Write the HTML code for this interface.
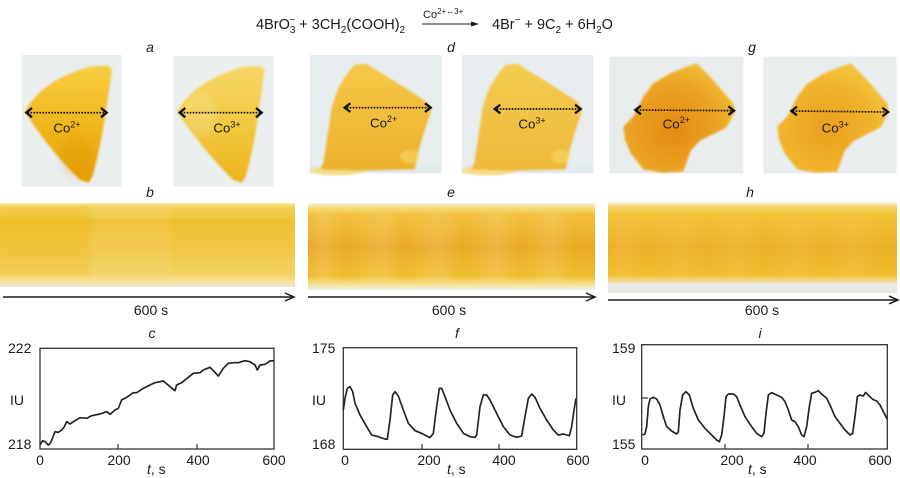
<!DOCTYPE html>
<html><head><meta charset="utf-8"><style>
html,body{margin:0;padding:0;background:#fff;}
svg{display:block;}
text{font-family:"Liberation Sans",Arial,sans-serif;fill:#1a1a1a;}
</style></head><body>
<svg width="900" height="478" viewBox="0 0 900 478" xmlns="http://www.w3.org/2000/svg">
<defs>
  <filter id="bl" x="-10%" y="-10%" width="120%" height="120%"><feGaussianBlur stdDeviation="3"/></filter>
  <filter id="bl2" x="-10%" y="-10%" width="120%" height="120%"><feGaussianBlur stdDeviation="1.5"/></filter>
  <filter id="bl3" x="-20%" y="-20%" width="140%" height="140%"><feGaussianBlur stdDeviation="12"/></filter>
  <linearGradient id="ga1" x1="0" y1="0" x2="0" y2="1">
    <stop offset="0" stop-color="#f7cf40"/><stop offset="0.55" stop-color="#f0b41a"/><stop offset="1" stop-color="#e49e04"/>
  </linearGradient>
  <linearGradient id="ga2" x1="0" y1="0" x2="0" y2="1">
    <stop offset="0" stop-color="#f6d866"/><stop offset="0.55" stop-color="#f2c63c"/><stop offset="1" stop-color="#ecb41c"/>
  </linearGradient>
  <linearGradient id="gd1" x1="0" y1="0" x2="0" y2="1">
    <stop offset="0" stop-color="#f6c848"/><stop offset="1" stop-color="#ecb02e"/>
  </linearGradient>
  <linearGradient id="gd2" x1="0" y1="0" x2="0" y2="1">
    <stop offset="0" stop-color="#f5cc50"/><stop offset="1" stop-color="#eeb838"/>
  </linearGradient>
  <radialGradient id="gg1" cx="0.45" cy="0.6" r="0.6">
    <stop offset="0" stop-color="#e48a10"/><stop offset="0.7" stop-color="#eba424"/><stop offset="1" stop-color="#f2bc34"/>
  </radialGradient>
  <radialGradient id="gg2" cx="0.45" cy="0.6" r="0.6">
    <stop offset="0" stop-color="#eaa020"/><stop offset="0.7" stop-color="#f0b42c"/><stop offset="1" stop-color="#f4c440"/>
  </radialGradient>
  <linearGradient id="sb" x1="0" y1="0" x2="0" y2="1">
    <stop offset="0" stop-color="#f8eca0"/><stop offset="0.05" stop-color="#f2d258"/><stop offset="0.22" stop-color="#efc232"/>
    <stop offset="0.5" stop-color="#f0c640"/><stop offset="0.84" stop-color="#f3d262"/><stop offset="0.93" stop-color="#f6e29a"/><stop offset="1" stop-color="#e8e6d6"/>
  </linearGradient>
  <linearGradient id="se" x1="0" y1="0" x2="0" y2="1">
    <stop offset="0" stop-color="#eef0e4"/><stop offset="0.06" stop-color="#f6da70"/><stop offset="0.13" stop-color="#f2c03a"/>
    <stop offset="0.5" stop-color="#eaaa24"/><stop offset="0.84" stop-color="#f0bc30"/><stop offset="0.92" stop-color="#f6dc80"/><stop offset="1" stop-color="#eef0e6"/>
  </linearGradient>
  <linearGradient id="sh" x1="0" y1="0" x2="0" y2="1">
    <stop offset="0" stop-color="#f2f0e0"/><stop offset="0.06" stop-color="#f4d660"/><stop offset="0.13" stop-color="#f2c234"/>
    <stop offset="0.5" stop-color="#ecb026"/><stop offset="0.8" stop-color="#f0bc2c"/><stop offset="0.87" stop-color="#f3d890"/><stop offset="0.9" stop-color="#e8eae4"/><stop offset="1" stop-color="#e6e8e4"/>
  </linearGradient>
  <linearGradient id="bands" x1="0" y1="0" x2="1" y2="0">
    <stop offset="0" stop-color="#fff" stop-opacity="0"/>
    <stop offset="0.05" stop-color="#fff" stop-opacity="0.12"/>
    <stop offset="0.13" stop-color="#fff" stop-opacity="0"/>
    <stop offset="0.26" stop-color="#fff" stop-opacity="0.12"/>
    <stop offset="0.34" stop-color="#fff" stop-opacity="0"/>
    <stop offset="0.45" stop-color="#fff" stop-opacity="0.12"/>
    <stop offset="0.54" stop-color="#fff" stop-opacity="0"/>
    <stop offset="0.66" stop-color="#fff" stop-opacity="0.12"/>
    <stop offset="0.74" stop-color="#fff" stop-opacity="0"/>
    <stop offset="0.85" stop-color="#fff" stop-opacity="0.12"/>
    <stop offset="0.93" stop-color="#fff" stop-opacity="0"/>
  </linearGradient>
</defs>

<!-- Equation -->
<text x="256" y="29" font-size="14.5">4BrO<tspan font-size="10" dy="4">3</tspan><tspan font-size="10" dx="-6" dy="-10">−</tspan><tspan dy="6"> + 3CH</tspan><tspan font-size="10" dy="4">2</tspan><tspan dy="-4">(COOH)</tspan><tspan font-size="10" dy="4">2</tspan></text>
<text x="492" y="29" font-size="14.5">4Br<tspan font-size="10" dy="-6">−</tspan><tspan dy="6"> + 9C</tspan><tspan font-size="10" dy="4">2</tspan><tspan dy="-4"> + 6H</tspan><tspan font-size="10" dy="4">2</tspan><tspan dy="-4">O</tspan></text>
<text x="423" y="18" font-size="11">Co<tspan font-size="8" dy="-4">2+↔3+</tspan></text>
<line x1="422" y1="24" x2="474" y2="24" stroke="#1a1a1a" stroke-width="1"/>
<path d="M471,21.5 L479,24 L471,26.5 Z" fill="#1a1a1a"/>

<!-- Panel labels -->
<g font-size="14" font-style="italic" text-anchor="middle">
  <text x="150" y="52">a</text><text x="451" y="52">d</text><text x="752" y="52">g</text>
  <text x="150" y="197">b</text><text x="451" y="197">e</text><text x="750" y="197">h</text>
  <text x="152" y="338">c</text><text x="457" y="338">f</text><text x="760" y="338">i</text>
</g>

<!-- Photos a -->
<g transform="translate(0,40) scale(0.333333)">
  <rect x="65" y="45" width="300" height="395" fill="#e9edee"/>
  <rect x="520" y="48" width="302" height="392" fill="#eaeeef"/>
  <path d="M75,215 C110,150 170,110 270,80 L325,76 L336,90 C322,180 310,290 278,408 L266,428 L240,420 C180,360 120,290 75,215 Z" fill="url(#ga1)" filter="url(#bl)"/>
  <ellipse cx="230" cy="350" rx="45" ry="60" fill="#dc9200" opacity="0.25" filter="url(#bl3)"/>
  <path d="M532,215 C570,150 630,110 730,80 L785,78 L794,90 C780,180 770,290 738,408 L726,428 L700,420 C640,360 580,290 532,215 Z" fill="url(#ga2)" filter="url(#bl)"/>
  <ellipse cx="600" cy="220" rx="50" ry="70" fill="#f8e8a8" opacity="0.3" filter="url(#bl3)"/>
  <g stroke="#111" fill="none">
    <line x1="82" y1="218" x2="316" y2="218" stroke-width="5" stroke-dasharray="5 4"/>
    <path d="M96,204 L79,218 L96,232 M303,204 L320,218 L303,232" stroke-width="7"/>
    <line x1="542" y1="218" x2="781" y2="218" stroke-width="5" stroke-dasharray="5 4"/>
    <path d="M556,204 L539,218 L556,232 M768,204 L785,218 L768,232" stroke-width="7"/>
  </g>
  <text x="160" y="278" font-size="40">Co<tspan font-size="27" dy="-16">2+</tspan></text>
  <text x="640" y="278" font-size="40">Co<tspan font-size="27" dy="-16">3+</tspan></text>
</g>

<!-- Photos d -->
<g transform="translate(300,40) scale(0.333333)">
  <rect x="30" y="45" width="395" height="355" fill="#e7edef"/>
  <rect x="30" y="370" width="395" height="30" fill="#e3ebee"/>
  <rect x="485" y="45" width="395" height="355" fill="#e7edef"/>
  <rect x="485" y="370" width="395" height="30" fill="#e3ebee"/>
  <ellipse cx="110" cy="392" rx="80" ry="14" fill="#f4dc8a" filter="url(#bl)"/>
  <path d="M70,368 L95,205 C110,140 140,100 165,74 L200,72 C260,110 330,150 385,190 L394,210 C372,280 352,330 345,388 L190,392 L62,388 Z" fill="url(#gd1)" filter="url(#bl)"/>
  <ellipse cx="330" cy="350" rx="30" ry="20" fill="#f8e070" opacity="0.5" filter="url(#bl)"/>
  <ellipse cx="565" cy="392" rx="80" ry="14" fill="#f4dc8a" filter="url(#bl)"/>
  <path d="M523,368 L548,205 C563,140 593,100 618,74 L653,72 C713,110 783,150 838,190 L847,210 C825,280 805,330 798,388 L643,392 L515,388 Z" fill="url(#gd2)" filter="url(#bl)"/>
  <ellipse cx="783" cy="350" rx="30" ry="20" fill="#f8e070" opacity="0.5" filter="url(#bl)"/>
  <g stroke="#111" fill="none">
    <line x1="140" y1="203" x2="386" y2="203" stroke-width="5" stroke-dasharray="5 4"/>
    <path d="M151,190 L134,203 L151,216 M375,190 L392,203 L375,216" stroke-width="7"/>
    <line x1="590" y1="207" x2="836" y2="207" stroke-width="5" stroke-dasharray="5 4"/>
    <path d="M601,194 L584,207 L601,220 M825,194 L842,207 L825,220" stroke-width="7"/>
  </g>
  <text x="210" y="262" font-size="40">Co<tspan font-size="27" dy="-16">2+</tspan></text>
  <text x="655" y="266" font-size="40">Co<tspan font-size="27" dy="-16">3+</tspan></text>
</g>

<!-- Photos g -->
<g transform="translate(600,40) scale(0.333333)">
  <rect x="28" y="50" width="402" height="350" fill="#e9ecec"/>
  <rect x="490" y="50" width="400" height="350" fill="#eaeded"/>
  <path d="M100,230 L70,260 L75,300 L92,340 L130,388 L185,398 L250,395 L272,332 L300,302 L340,282 L380,262 L405,215 L400,190 L330,110 L290,70 L260,80 L210,100 L160,130 L130,170 Z" fill="url(#gg1)" filter="url(#bl)"/>
  <path d="M562,230 L532,260 L537,300 L554,340 L592,388 L647,398 L712,395 L734,332 L762,302 L802,282 L842,262 L867,215 L862,190 L792,110 L752,70 L722,80 L672,100 L622,130 L592,170 Z" fill="url(#gg2)" filter="url(#bl)"/>
  <g stroke="#111" fill="none">
    <line x1="110" y1="210" x2="396" y2="212" stroke-width="5" stroke-dasharray="5 4"/>
    <path d="M123,197 L106,210 L123,223 M385,199 L402,212 L385,225" stroke-width="7"/>
    <line x1="578" y1="213" x2="858" y2="216" stroke-width="5" stroke-dasharray="5 4"/>
    <path d="M591,200 L574,213 L591,226 M847,203 L864,216 L847,229" stroke-width="7"/>
  </g>
  <text x="188" y="265" font-size="40">Co<tspan font-size="27" dy="-16">2+</tspan></text>
  <text x="665" y="278" font-size="40">Co<tspan font-size="27" dy="-16">3+</tspan></text>
</g>

<!-- Strips -->
<rect x="0" y="203" width="295" height="84" fill="url(#sb)"/>
<rect x="0" y="206" width="88" height="70" fill="#e8a800" opacity="0.12" filter="url(#bl2)"/>
<rect x="92" y="206" width="78" height="70" fill="#fff" opacity="0.06" filter="url(#bl2)"/>
<rect x="0" y="219" width="295" height="5" fill="#e8a800" opacity="0.12" filter="url(#bl2)"/>

<rect x="308" y="203" width="287" height="87" fill="url(#se)"/>
<rect x="308" y="210" width="287" height="72" fill="url(#bands)"/>

<rect x="608" y="202" width="289" height="91" fill="url(#sh)"/>
<rect x="608" y="209" width="289" height="70" fill="url(#bands)" opacity="0.5"/>

<!-- strip arrows -->
<g stroke="#1a1a1a" stroke-width="1.5" fill="none">
  <line x1="3" y1="297" x2="293" y2="297"/><path d="M285,293 L294,297 L285,301"/>
  <line x1="308" y1="297" x2="594" y2="297"/><path d="M586,293 L595,297 L586,301"/>
  <line x1="608" y1="300" x2="897" y2="300"/><path d="M889,296 L898,300 L889,304"/>
</g>
<g font-size="14" text-anchor="middle">
  <text x="151" y="315">600 s</text><text x="449" y="315">600 s</text><text x="762" y="315">600 s</text>
</g>

<!-- Chart c -->
<rect x="40" y="348.3" width="234" height="100.7" fill="none" stroke="#333" stroke-width="1.3"/>
<g stroke="#333" stroke-width="1.2"><line x1="118" y1="449" x2="118" y2="444"/><line x1="197" y1="449" x2="197" y2="444"/></g>
<g transform="translate(0,320) scale(0.333333)">
<polyline fill="none" stroke="#222" stroke-width="5" stroke-linejoin="round" points="120,375 128,362 135,365 145,375 152,368 165,335 175,337 185,330 192,322 200,305 210,312 225,302 240,293 260,295 275,287 300,282 320,275 330,283 345,270 355,265 365,240 380,232 400,218 410,218 430,205 450,195 465,188 490,183 510,200 525,212 530,195 545,188 565,172 580,160 600,158 610,150 630,142 640,152 655,168 670,145 685,130 700,128 715,128 735,122 750,125 765,135 772,150 780,135 795,133 810,123 822,122"/>
</g>
<g font-size="14">
  <text x="8" y="353">222</text><text x="8" y="449">218</text><text x="10" y="405">IU</text>
  <text x="40" y="465" text-anchor="middle">0</text><text x="119" y="465" text-anchor="middle">200</text>
  <text x="198" y="465" text-anchor="middle">400</text><text x="274" y="465" text-anchor="middle">600</text>
  <text x="147" y="474"><tspan font-style="italic">t</tspan>, s</text>
</g>

<!-- Chart f -->
<rect x="343.3" y="347.7" width="233.4" height="101.6" fill="none" stroke="#333" stroke-width="1.3"/>
<g stroke="#333" stroke-width="1.2"><line x1="422" y1="449" x2="422" y2="444"/><line x1="499" y1="449" x2="499" y2="444"/></g>
<g transform="translate(300,320) scale(0.333333)">
<polyline fill="none" stroke="#222" stroke-width="5" stroke-linejoin="round" points="130,270 135,235 142,205 150,200 158,215 165,250 180,285 200,320 215,345 235,350 255,357 262,358 270,300 278,225 285,215 295,228 310,270 325,310 345,332 365,340 380,348 390,353 400,340 410,260 418,205 425,205 435,230 450,270 470,310 490,340 510,350 525,352 530,345 540,260 550,225 560,225 570,240 590,280 610,320 630,345 650,352 665,348 675,290 685,235 695,222 705,232 720,265 740,300 760,330 775,345 790,342 800,345 808,347 815,320 822,270 828,235"/>
</g>
<g font-size="14">
  <text x="312" y="353">175</text><text x="312" y="449">168</text><text x="312" y="405">IU</text>
  <text x="345" y="465" text-anchor="middle">0</text><text x="429" y="465" text-anchor="middle">200</text>
  <text x="504" y="465" text-anchor="middle">400</text><text x="578" y="465" text-anchor="middle">600</text>
  <text x="447" y="474"><tspan font-style="italic">t</tspan>, s</text>
</g>

<!-- Chart i -->
<rect x="641.7" y="344.7" width="245.6" height="104.3" fill="none" stroke="#333" stroke-width="1.3"/>
<g stroke="#333" stroke-width="1.2"><line x1="725" y1="449" x2="725" y2="444"/><line x1="808" y1="449" x2="808" y2="444"/><line x1="642" y1="398" x2="648" y2="398"/></g>
<g transform="translate(600,320) scale(0.333333)">
<polyline fill="none" stroke="#222" stroke-width="5" stroke-linejoin="round" points="128,345 135,342 140,320 145,260 150,237 160,232 170,237 180,255 190,290 200,320 215,333 230,342 235,335 240,270 248,225 258,215 268,225 280,265 295,300 315,325 335,345 350,360 358,365 365,345 372,290 378,230 385,222 400,222 410,230 420,255 435,290 455,320 470,340 485,350 492,340 498,280 505,225 515,218 530,225 545,232 555,245 565,270 575,300 585,305 595,320 605,345 612,350 620,320 628,260 635,220 645,217 655,212 665,222 680,235 690,255 705,290 720,310 735,330 750,345 758,340 765,290 772,230 780,225 790,228 797,217 808,228 818,238 830,243 840,255 850,275 862,298"/>
</g>
<g font-size="14">
  <text x="612" y="353">159</text><text x="612" y="449">155</text><text x="612" y="405">IU</text>
  <text x="645" y="465" text-anchor="middle">0</text><text x="732" y="465" text-anchor="middle">200</text>
  <text x="805" y="465" text-anchor="middle">400</text><text x="880" y="465" text-anchor="middle">600</text>
  <text x="748" y="474"><tspan font-style="italic">t</tspan>, s</text>
</g>
</svg>
</body></html>
